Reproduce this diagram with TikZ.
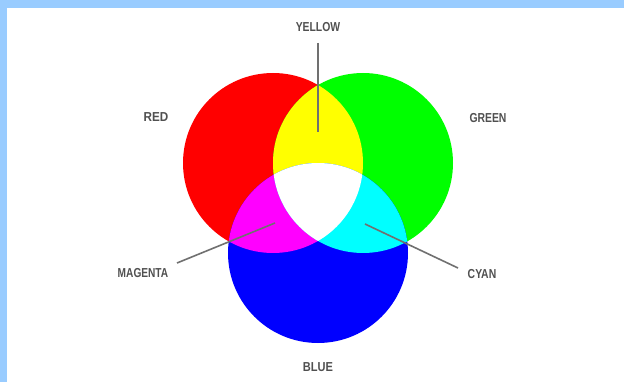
\documentclass[tikz,border=0pt]{standalone}
\usepackage{fontspec}
\usepackage{graphicx}
\setmainfont{Liberation Sans}
\definecolor{frame}{HTML}{99CCFF}
\definecolor{lbl}{HTML}{505050}
\definecolor{lead}{HTML}{707070}
\definecolor{cR}{HTML}{FF0000}
\definecolor{cG}{HTML}{00FF00}
\definecolor{cB}{HTML}{0000FF}
\definecolor{cY}{HTML}{FFFF00}
\definecolor{cM}{HTML}{FF00FF}
\definecolor{cC}{HTML}{00FFFF}
\begin{document}
\begin{tikzpicture}[x=1pt,y=-1pt,
  lab/.style={font=\fontsize{13}{13}\selectfont\bfseries, text=lbl, inner sep=0pt},
  leader/.style={draw=lead, line width=1.6pt}]
\useasboundingbox (0,0) rectangle (624,382);
\fill[frame] (0,0) rectangle (624,382);
\fill[white] (7,8) rectangle (624,382);
% circles
\coordinate (cr) at (273,163);
\coordinate (cg) at (363,163);
\coordinate (cb) at (318,253);
\fill[cR] (cr) circle (90pt);
\fill[cG] (cg) circle (90pt);
\fill[cB] (cb) circle (90pt);
\begin{scope}
  \clip (cr) circle (90pt);
  \fill[cY] (cg) circle (90pt);
  \fill[cM] (cb) circle (90pt);
\end{scope}
\begin{scope}
  \clip (cg) circle (90pt);
  \fill[cC] (cb) circle (90pt);
\end{scope}
\begin{scope}
  \clip (cr) circle (90pt);
  \clip (cg) circle (90pt);
  \fill[white] (cb) circle (90pt);
\end{scope}
% labels
\node[lab] (yellowL) at (318,27) {\scalebox{0.8}[1]{YELLOW}};
\node[lab] (redL) at (156,117) {\scalebox{0.9}[1]{RED}};
\node[lab] (greenL) at (488,118) {\scalebox{0.8}[1]{GREEN}};
\node[lab] (magentaL) at (143,273) {\scalebox{0.78}[1]{MAGENTA}};
\node[lab] (cyanL) at (482,274) {\scalebox{0.8}[1]{CYAN}};
\node[lab] (blueL) at (318,367) {\scalebox{0.85}[1]{BLUE}};
% leader lines
\coordinate (ya) at (318,43);
\coordinate (yb) at (318,132);
\coordinate (ma) at (177,263);
\coordinate (mb) at (275,223);
\coordinate (ca) at (458,268);
\coordinate (cb2) at (365,224);
\draw[leader] (ya) -- (yb);
\draw[leader] (ma) -- (mb);
\draw[leader] (ca) -- (cb2);
\end{tikzpicture}
\end{document}
